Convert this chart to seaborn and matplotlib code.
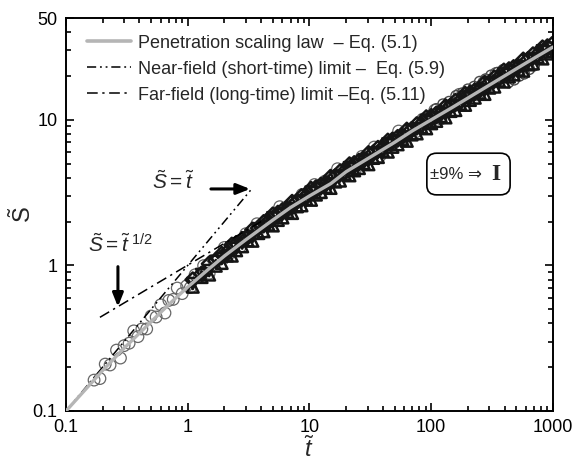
import numpy as np
import pandas as pd
import seaborn as sns
import matplotlib.pyplot as plt
from matplotlib.ticker import FixedLocator, LogLocator, FuncFormatter, NullFormatter
from matplotlib.lines import Line2D
from matplotlib.patches import FancyBboxPatch

# penetration scaling law, Eq. (5.1)
law_t = [0.1, 0.2, 0.3, 0.5, 0.7, 1, 1.5, 2, 3, 5, 7, 10, 15, 20, 30, 50, 70,
         100, 150, 200, 300, 500, 700, 1000]
law_S = [0.1, 0.19, 0.27, 0.41, 0.54, 0.71, 0.95, 1.16, 1.5, 2.05, 2.5, 3.0,
         3.65, 4.4, 5.4, 7.0, 8.4, 10.0, 12.2, 14.1, 17.3, 22.4, 26.5, 31.6]

# near-field (S = t) and far-field (S = t^1/2) limits
near_t = [0.1, 3.4]
near_S = [0.1, 3.4]
far_t = [0.19, 4.0]
far_S = [0.44, 2.0]

# experiments - open circles
circ_t = [0.17, 0.19, 0.21, 0.23, 0.26, 0.28, 0.3, 0.33, 0.36, 0.39, 0.42, 0.46, 0.5,
          0.55, 0.6, 0.65, 0.7, 0.76, 0.82, 0.9, 0.98, 1.05, 1.15, 1.25, 1.35, 1.5,
          1.65, 1.8, 2.0, 2.2, 2.4, 2.7, 3.0, 3.3, 3.7, 4.1, 4.6, 5.1, 5.7, 6.3, 7.0,
          7.8, 8.7, 9.7, 11, 12, 13.5, 15, 17, 19, 21, 24, 27, 30, 34, 38, 43, 48,
          54, 60, 68, 76, 85, 95, 107, 120, 135, 150, 170, 190, 215, 240, 270, 300, 340]
circ_S = [0.163, 0.167, 0.210, 0.207, 0.262, 0.231, 0.281, 0.292, 0.355, 0.324, 0.366,
          0.366, 0.449, 0.442, 0.536, 0.471, 0.575, 0.584, 0.699, 0.640, 0.724, 0.704,
          0.862, 0.833, 0.996, 0.883, 1.085, 1.098, 1.328, 1.205, 1.352, 1.344, 1.65,
          1.59, 1.932, 1.693, 2.076, 2.101, 2.53, 2.283, 2.569, 2.525, 3.069, 2.97,
          3.593, 3.097, 3.799, 3.825, 4.612, 4.165, 4.659, 4.608, 5.61, 5.39, 6.498,
          5.654, 6.934, 6.997, 8.372, 7.526, 8.518, 8.314, 10.09, 9.70, 11.64, 10.15,
          12.39, 12.44, 14.95, 13.48, 15.18, 14.84, 18.04, 17.3, 20.79]

# experiments - triangles, diamonds, inverted triangles (dense band)
band_t = [1.1, 1.3, 1.5, 1.7, 1.9, 2.1, 2.3, 2.5, 2.8, 3.1, 3.4, 3.8, 4.2, 4.6, 5.0,
          5.5, 6.0, 6.6, 7.2, 7.9, 8.6, 9.4, 10.3, 11.3, 12.4, 13.6, 14.9, 16.3, 17.8,
          19.5, 21.3, 23.3, 25.5, 27.9, 30.5, 33.4, 36.5, 40, 44, 48, 53, 58, 63, 69,
          76, 83, 91, 100, 110, 120, 131, 144, 158, 173, 190, 208, 228, 250, 274, 300,
          330, 360, 395, 435, 475, 520, 570, 625, 685, 750, 820, 900, 985]
tri_S = [0.713, 0.831, 0.864, 0.994, 1.038, 1.169, 1.165, 1.269, 1.351, 1.485, 1.475,
         1.665, 1.713, 1.905, 1.878, 2.049, 2.132, 2.322, 2.288, 2.542, 2.582, 2.857,
         2.819, 3.061, 3.184, 3.452, 3.401, 3.762, 3.818, 4.221, 4.150, 4.490, 4.656,
         5.034, 4.945, 5.467, 5.543, 6.122, 6.034, 6.514, 6.780, 7.324, 7.166, 7.917,
         8.055, 8.875, 8.728, 9.453, 9.814, 10.58, 10.37, 11.48, 11.65, 12.86, 12.65,
         13.67, 14.17, 15.31, 15.03, 16.60, 16.87, 18.57, 18.26, 19.81, 20.46, 22.10,
         21.70, 23.98, 24.33, 26.82, 26.33, 28.48, 29.49]
sq_S = [0.797, 0.874, 1.025, 1.076, 1.194, 1.229, 1.380, 1.416, 1.509, 1.562, 1.751,
        1.803, 1.971, 2.002, 2.225, 2.286, 2.381, 2.442, 2.715, 2.754, 2.970, 3.002,
        3.340, 3.415, 3.556, 3.630, 4.036, 4.076, 4.392, 4.436, 4.917, 5.010, 5.201,
        5.294, 5.869, 5.923, 6.377, 6.434, 7.149, 7.268, 7.574, 7.702, 8.505, 8.577,
        9.267, 9.328, 10.34, 10.55, 10.96, 11.13, 12.31, 12.44, 13.41, 13.51, 14.99,
        15.25, 15.82, 16.10, 17.84, 17.98, 19.41, 19.52, 21.64, 22.10, 22.86, 23.24,
        25.76, 25.98, 27.99, 28.19, 31.20, 31.78, 32.94]
inv_S = [0.751, 0.866, 0.921, 1.066, 1.116, 1.145, 1.317, 1.309, 1.423, 1.546, 1.572,
         1.786, 1.842, 1.866, 2.123, 2.114, 2.245, 2.418, 2.439, 2.727, 2.776, 2.798,
         3.187, 3.158, 3.353, 3.595, 3.625, 4.037, 4.105, 4.135, 4.691, 4.631, 4.903,
         5.242, 5.271, 5.866, 5.960, 5.997, 6.821, 6.720, 7.141, 7.627, 7.639, 8.494,
         8.661, 8.694, 9.866, 9.751, 10.34, 11.02, 11.06, 12.32, 12.53, 12.60, 14.30,
         14.10, 14.92, 15.94, 16.02, 17.81, 18.14, 18.19, 20.64, 20.43, 21.55, 23.01,
         23.13, 25.73, 26.16, 26.28, 29.76, 29.38, 31.06]

# outlying runs at long times
ext_t = [110, 125, 140, 160, 180, 200, 225, 250, 280, 310, 350, 390, 430, 480, 530,
         580, 640, 700]
ext_S = [11.90, 12.81, 13.33, 14.63, 15.25, 16.22, 16.92, 18.30, 19.04, 20.21, 21.11,
         22.09, 18.02, 18.82, 20.01, 20.69, 22.25, 23.53]

sns.set_style('ticks')
plt.rcParams['font.family'] = ['Liberation Sans', 'DejaVu Sans']
plt.rcParams['mathtext.fontset'] = 'custom'
plt.rcParams['mathtext.rm'] = 'Liberation Sans'
plt.rcParams['mathtext.it'] = 'Liberation Sans:italic'

fig = plt.figure(figsize=(5.8, 4.68), dpi=100)
ax = fig.add_axes([0.1138, 0.1218, 0.9534 - 0.1138, 0.9615 - 0.1218])
ax.set_xscale('log')
ax.set_yscale('log')

circ = pd.DataFrame({'t': circ_t, 'S': circ_S})
tri = pd.DataFrame({'t': band_t, 'S': tri_S})
sq = pd.DataFrame({'t': band_t, 'S': sq_S})
inv = pd.DataFrame({'t': band_t, 'S': inv_S})
ext = pd.DataFrame({'t': ext_t, 'S': ext_S})

sns.scatterplot(data=circ, x='t', y='S', ax=ax, marker='o', s=70, facecolor='none',
                edgecolor='#666666', linewidth=0.9, zorder=2)
sns.scatterplot(data=ext, x='t', y='S', ax=ax, marker='o', s=55, facecolor='none',
                edgecolor='#4a4a4a', linewidth=1.0, zorder=2)
sns.scatterplot(data=tri, x='t', y='S', ax=ax, marker='^', s=70, facecolor='none',
                edgecolor='#151515', linewidth=1.8, zorder=2)
sns.scatterplot(data=sq, x='t', y='S', ax=ax, marker='D', s=55, facecolor='none',
                edgecolor='#151515', linewidth=1.8, zorder=2)
sns.scatterplot(data=inv, x='t', y='S', ax=ax, marker='v', s=65, facecolor='none',
                edgecolor='#151515', linewidth=1.8, zorder=2)

ls_near = (0, (6, 2.5, 1.2, 2.5, 1.2, 2.5))
ls_far = (0, (7, 3, 1.5, 3))
sns.lineplot(x=near_t, y=near_S, ax=ax, color='black', lw=1.1, linestyle=ls_near, zorder=3)
sns.lineplot(x=far_t, y=far_S, ax=ax, color='black', lw=1.1, linestyle=ls_far, zorder=3)
sns.lineplot(x=law_t, y=law_S, ax=ax, color='#b5b5b5', lw=2.4, zorder=4)

ax.set_xlim(0.1, 1000)
ax.set_ylim(0.1, 50)

ax.xaxis.set_major_locator(FixedLocator([0.1, 1, 10, 100, 1000]))
ax.yaxis.set_major_locator(FixedLocator([0.1, 1, 10, 50]))
ax.xaxis.set_minor_locator(LogLocator(base=10, subs=np.arange(2, 10)))
ax.yaxis.set_minor_locator(LogLocator(base=10, subs=np.arange(2, 10)))
fmt = FuncFormatter(lambda v, p: '%g' % v)
ax.xaxis.set_major_formatter(fmt)
ax.yaxis.set_major_formatter(fmt)
ax.xaxis.set_minor_formatter(NullFormatter())
ax.yaxis.set_minor_formatter(NullFormatter())
ax.tick_params(which='both', direction='in', top=True, right=True, width=1.2,
               labelsize=13, color='black', labelcolor='black')
ax.tick_params(which='major', length=6, pad=6)
ax.tick_params(which='minor', length=3.5)
for sp in ax.spines.values():
    sp.set_linewidth(1.4)
    sp.set_color('black')

ax.set_xlabel(r'$\tilde{t}$', fontsize=17, labelpad=0)
ax.set_ylabel(r'$\tilde{\mathrm{S}}$', fontsize=17)
ax.yaxis.set_label_coords(-0.062, 0.5)

handles = [Line2D([], [], color='#b5b5b5', lw=2.6),
           Line2D([], [], color='black', lw=1.1, linestyle=ls_near),
           Line2D([], [], color='black', lw=1.1, linestyle=ls_far)]
labels = ['Penetration scaling law  – Eq. (5.1)',
          'Near-field (short-time) limit –  Eq. (5.9)',
          'Far-field (long-time) limit –Eq. (5.11)']
ax.legend(handles, labels, loc='upper left', bbox_to_anchor=(0.018, 0.99),
          frameon=False, fontsize=13, handlelength=2.4, handletextpad=0.4,
          labelspacing=0.5, borderpad=0.2)

ax.text(0.757, 3.74, r'$\tilde{S} = \tilde{t}$', fontsize=15, ha='center', va='center')
ax.annotate('', xy=(3.25, 3.35), xytext=(1.55, 3.35),
            arrowprops=dict(arrowstyle='-|>,head_length=0.8,head_width=0.32',
                            color='black', lw=2.2, shrinkA=0, shrinkB=0))
ax.text(0.152, 1.40, r'$\tilde{S} = \tilde{t}^{\ \mathit{1/2}}$', fontsize=15,
        ha='left', va='center')
ax.annotate('', xy=(0.267, 0.52), xytext=(0.267, 0.98),
            arrowprops=dict(arrowstyle='-|>,head_length=0.8,head_width=0.32',
                            color='black', lw=2.2, shrinkA=0, shrinkB=0))

# +-9% error bar box
box = FancyBboxPatch((0.741, 0.550), 0.171, 0.106, transform=ax.transAxes,
                     boxstyle='round,pad=0,rounding_size=0.02', fc='white',
                     ec='black', lw=1.2, zorder=5, mutation_aspect=1.2)
ax.add_patch(box)
ax.text(0.80, 0.603, '±9% ⇒', transform=ax.transAxes, fontsize=12,
        family=['Liberation Sans', 'DejaVu Sans'], ha='center', va='center', zorder=6)
ax.text(0.882, 0.603, 'I', transform=ax.transAxes, fontsize=17,
        family='Liberation Serif', weight='bold', ha='center', va='center', zorder=6)

plt.savefig('out.png', dpi=100)
